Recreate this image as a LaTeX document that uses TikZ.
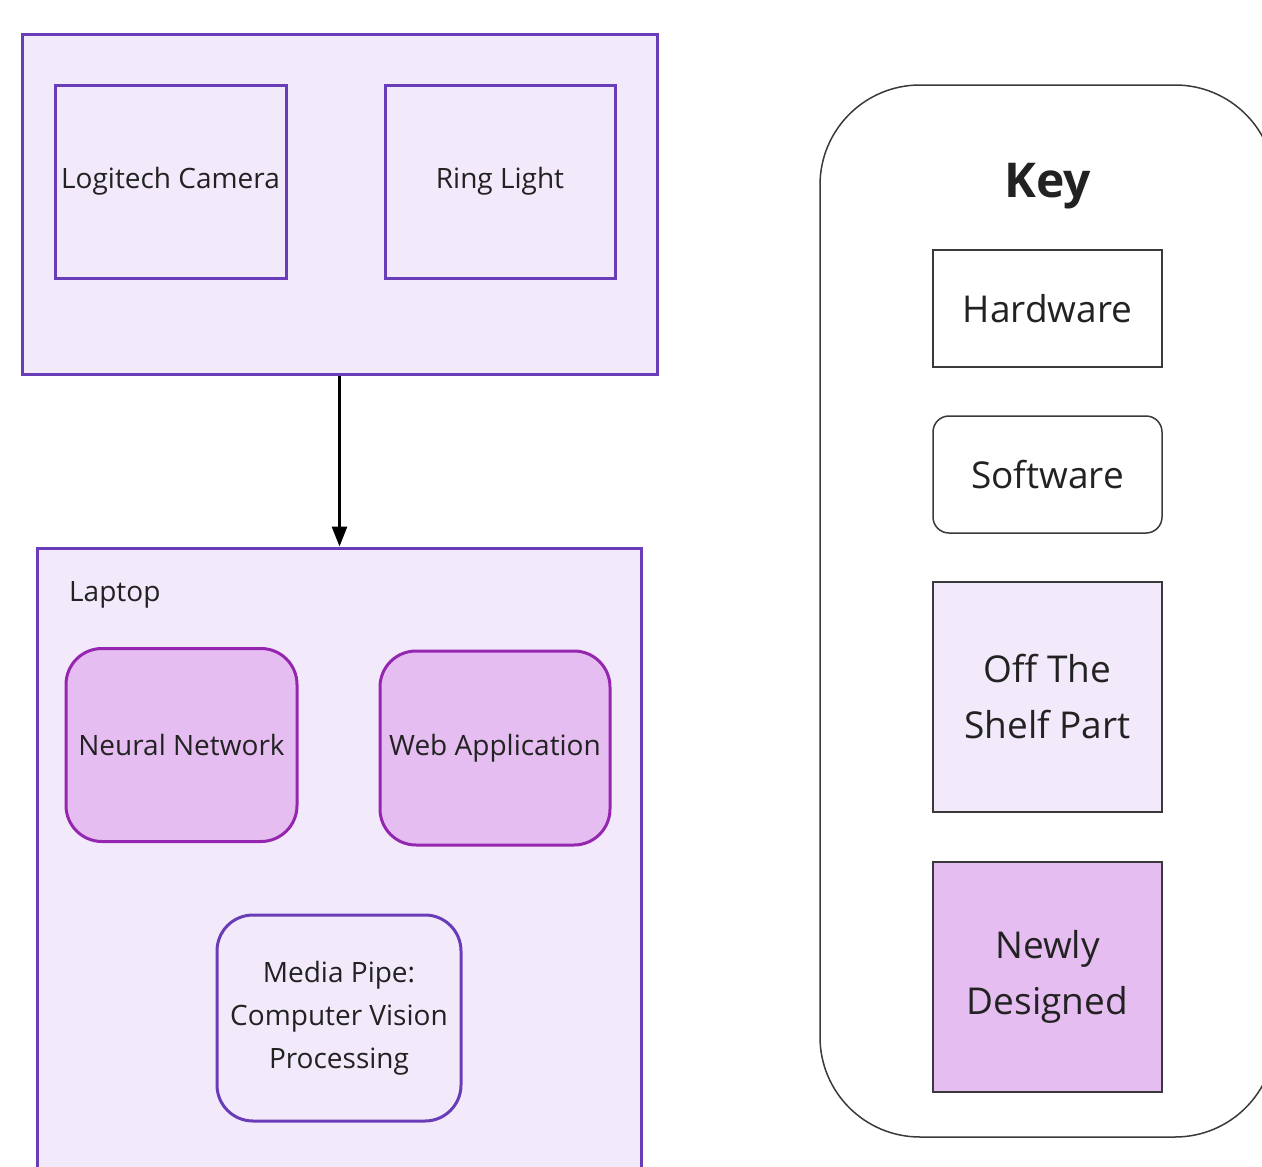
\documentclass[tikz,border=0pt]{standalone}
\usepackage{fontspec}
\setmainfont{Open Sans}
\usetikzlibrary{arrows.meta}
\definecolor{hwpurple}{HTML}{6A3DB8}
\definecolor{lightfill}{HTML}{F2EAFA}
\definecolor{newfill}{HTML}{E5BDF0}
\definecolor{newstroke}{HTML}{9526B0}
\definecolor{keygray}{HTML}{3A3A3A}
\definecolor{txt}{HTML}{222222}
\begin{document}
\begin{tikzpicture}[x=1pt,y=-1pt,
  hwbox/.style={draw=hwpurple,fill=lightfill,line width=3pt,inner sep=0pt,text=txt,align=center},
  swbox/.style={hwbox,rounded corners=36pt},
  newbox/.style={draw=newstroke,fill=newfill,line width=3pt,rounded corners=36pt,inner sep=0pt,text=txt,align=center},
  keybox/.style={draw=keygray,line width=1.5pt,inner sep=0pt,text=txt,align=center,minimum width=229pt,font=\fontsize{37}{56}\selectfont},
  lbl/.style={font=\fontsize{28}{43}\selectfont}
]
\useasboundingbox (0,0) rectangle (1262,1167);
\fill[white] (0,0) rectangle (1262,1167);
\clip (0,0) rectangle (1262,1167);

% top hardware group
\node[hwbox,minimum width=635pt,minimum height=340pt] (top) at (339.5,204) {};
\node[hwbox,lbl,minimum width=231pt,minimum height=193pt] (cam) at (170.5,181.5) {Logitech Camera};
\node[hwbox,lbl,minimum width=230pt,minimum height=193pt] (ring) at (500,181.5) {Ring Light};

% laptop group
\node[hwbox,minimum width=604pt,minimum height=640pt] (laptop) at (339,868) {};
\node[lbl,anchor=west,text=txt,inner sep=0pt] (laptoplbl) at (69,595) {Laptop};

\node[newbox,lbl,minimum width=231pt,minimum height=193pt] (nn) at (181.5,745) {Neural Network};
\node[newbox,lbl,minimum width=230pt,minimum height=194pt] (web) at (495,748) {Web Application};
\node[swbox,lbl,minimum width=244pt,minimum height=206pt] (mp) at (339,1018) {Media Pipe:\\Computer Vision\\Processing};

\draw[line width=3pt,-{Triangle[length=20pt,width=15pt]}] (top.south) -- (top.south |- laptop.north);

% key
\draw[keygray,line width=1.5pt,rounded corners=100pt] (820,85) rectangle (1275,1137);
\node[font=\bfseries\fontsize{48}{56}\selectfont,text=txt] (keytitle) at (1048,186) {Key};
\node[keybox,fill=white,minimum height=117pt] (khw) at (1047.5,308.5) {Hardware};
\node[keybox,fill=white,rounded corners=16pt,minimum height=117pt] (ksw) at (1047.5,474.5) {Software};
\node[keybox,fill=lightfill,minimum height=230pt] (kots) at (1047.5,697) {Off The\\Shelf Part};
\node[keybox,fill=newfill,minimum height=230pt] (knew) at (1047.5,977) {Newly\\Designed};
\end{tikzpicture}
\end{document}
